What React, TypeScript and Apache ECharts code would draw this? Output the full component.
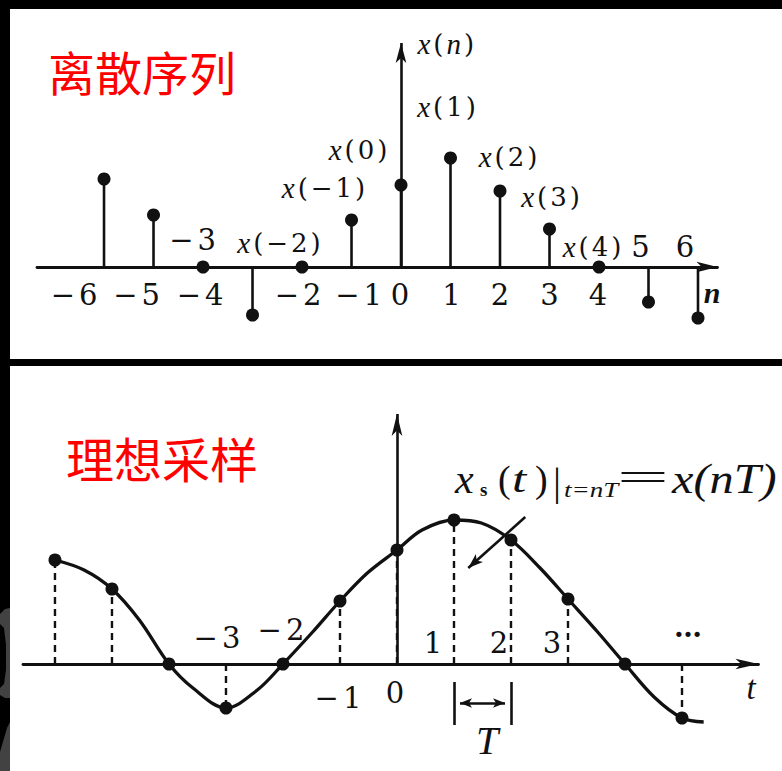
import React, { useEffect, useRef } from 'react';
import * as echarts from 'echarts';

// ---------------- data: discrete sequence x(n) ----------------
const seqN = [-6, -5, -4, -3, -2, -1, 0, 1, 2, 3, 4, 5, 6];
const seqValues = [0.88, 0.52, 0, -0.48, 0, 0.47, 0.82, 1.09, 0.76, 0.38, 0, -0.35, -0.51];
const seqTickLabels = ['−6', '−5', '−4', '−3', '−2', '−1', '0', '1', '2', '3', '4', '5', '6'];
const seqValueLabels = ['', '', '', '', 'x(−2)', 'x(−1)', 'x(0)', 'x(1)', 'x(2)', 'x(3)', 'x(4)', '', ''];

// ---------------- data: ideal sampling of x(t) ----------------
const sampleN = [-6, -5, -4, -3, -2, -1, 0, 1, 2, 3, 4, 5];
const sampleValues = [1.04, 0.75, 0, -0.44, 0, 0.63, 1.14, 1.44, 1.24, 0.65, 0, -0.54];
const sampleTickLabels = ['', '', '', '−3', '−2', '−1', '0', '1', '2', '3', '', '…'];
const signalT = [-6, -5.49, -5, -4.52, -4, -3.58, -3, -2.45, -2, -1.48, -1, -0.52, 0, 0.44, 1, 1.48, 2, 2.51, 3, 3.52, 4, 4.51, 5, 5.38];
const signalValues = [1.04, 0.94, 0.75, 0.44, 0, -0.24, -0.44, -0.26, 0, 0.32, 0.63, 0.91, 1.14, 1.34, 1.44, 1.41, 1.24, 0.96, 0.65, 0.32, 0, -0.33, -0.54, -0.58];

// ---------------- styles / layout ----------------
const INK = '#111111';
const RED = '#ff0000';
const SERIF = "'Liberation Serif', 'DejaVu Serif', serif";
const WIDE_SERIF = "'DejaVu Serif', 'Liberation Serif', serif";
const CJK = "'Noto Sans CJK SC', 'Noto Sans', sans-serif";

type Nudge = [number, number];
const seqTickNudge: Record<string, Nudge> = {
  '-6': [-30, 28], '-5': [-17, 28], '-4': [-3, 28], '-3': [-60, -27], '-2': [-4, 28], '-1': [7, 28],
  '0': [-1, 28], '1': [1, 28], '2': [0, 28], '3': [0, 28], '4': [-1, 28], '5': [-8, -20], '6': [-13, -20],
};
const seqValueNudge: Record<string, Nudge> = {
  '-2': [-23, -24], '-1': [-28, -32], '0': [-43, -35], '1': [-4, -51], '2': [8, -34], '3': [1, -32], '4': [-7, -20],
};
const sampleTickNudge: Record<string, Nudge> = {
  '-3': [-9, -26], '-2': [-2, -34], '-1': [-2, 34], '0': [-2, 29], '1': [-21, -21], '2': [-12, -21], '3': [-16, -21], '5': [6, -37],
};

// letters: italic Times-like; digits / signs: wide upright serif (like the scanned textbook)
function mathRich(str: string, size: number, pad: number, bold = false) {
  let text = '';
  for (const ch of Array.from(str)) {
    const key = /[A-Za-z]/.test(ch) ? 'i' : 'u';
    text += `{${key}|${ch}}`;
  }
  const w = bold ? 'bold' : 'normal';
  return {
    text,
    rich: {
      i: { font: `italic ${w} ${Math.round(size * 1.12)}px ${SERIF}`, fill: INK, color: INK, padding: [0, pad, 0, pad] },
      u: { font: `normal ${w} ${size}px ${WIDE_SERIF}`, fill: INK, color: INK, padding: [0, pad, 0, pad] },
    },
  };
}

function richText(x: number, y: number, str: string, size: number, pad: number, align = 'center', extra: any = {}, bold = false) {
  const r = mathRich(str, size, pad, bold);
  return {
    type: 'text', x, y, ...extra,
    style: {
      text: r.text, rich: r.rich, fill: INK, font: `normal normal ${size}px ${WIDE_SERIF}`,
      align, verticalAlign: 'middle', textAlign: align, textVerticalAlign: 'middle',
    },
  };
}

function plainText(x: number, y: number, str: string, size: number, family: string, fill: string, opts: any = {}, extra: any = {}) {
  return {
    type: 'text', x, y, ...extra,
    style: {
      text: str, fill,
      font: `${opts.italic ? 'italic' : 'normal'} ${opts.bold ? 'bold' : 'normal'} ${size}px ${family}`,
      align: opts.align || 'left', verticalAlign: 'middle', textAlign: opts.align || 'left', textVerticalAlign: 'middle',
    },
  };
}

function buildOption(): any {
  const axisCommon = {
    type: 'value',
    axisTick: { show: false },
    axisLabel: { show: false },
    splitLine: { show: false },
  };
  const markLineBase = {
    silent: true,
    animation: false,
    label: { show: false },
    emphasis: { disabled: true },
    lineStyle: { color: INK, width: 2.6, type: 'solid' },
    symbol: ['none', 'none'],
  };

  const graphicElements: any[] = [
    // frame bands
    { type: 'rect', shape: { x: 0, y: 0, width: 782, height: 9 }, style: { fill: '#000' }, z: 50 },
    { type: 'rect', shape: { x: 0, y: 0, width: 10, height: 771 }, style: { fill: '#000' }, z: 50 },
    { type: 'rect', shape: { x: 0, y: 359, width: 782, height: 7 }, style: { fill: '#000' }, z: 50 },
    // grey scan artefact on the left band
    { type: 'polygon', shape: { points: [[0, 614], [5, 609], [10, 608], [10, 698], [5, 698], [0, 695]] }, style: { fill: '#424242' }, z: 51 },
    { type: 'polygon', shape: { points: [[0, 624], [4, 628], [6, 645], [6, 670], [4, 684], [0, 688]] }, style: { fill: '#000' }, z: 52 },
    { type: 'polygon', shape: { points: [[7, 728], [10, 722], [10, 771], [0, 771], [0, 752]] }, style: { fill: '#424242' }, z: 51 },
    // headings
    plainText(48, 70, '离散序列', 47, CJK, RED),
    plainText(66, 457, '理想采样', 48, CJK, RED),
    // axis names
    richText(416, 44, 'x(n)', 26, 1.5, 'left'),
    plainText(712, 292, 'n', 30, SERIF, INK, { italic: true, bold: true, align: 'center' }),
    plainText(751, 688, 't', 33, SERIF, INK, { italic: true, align: 'center' }),
    plainText(487, 740, 'T', 40, SERIF, INK, { italic: true, align: 'center' }),
    // formula  x_s(t)|_{t=nT} = x(nT)
    plainText(455, 479, 'x', 42, SERIF, INK, { italic: true }),
    plainText(480, 489, 's', 19, SERIF, INK, { bold: true }),
    plainText(498, 479, '(', 38, SERIF, INK, {}),
    plainText(512, 479, 't', 38, SERIF, INK, { italic: true }, { scaleX: 1.35 }),
    plainText(535, 479, ')', 38, SERIF, INK, {}),
    plainText(553, 481, '|', 40, SERIF, INK, {}),
    plainText(564, 490, 't=nT', 20, SERIF, INK, { italic: true }, { scaleX: 1.35 }),
    plainText(617, 477, '=', 40, SERIF, INK, {}, { scaleX: 2.3 }),
    plainText(672, 479, 'x(nT)', 42, SERIF, INK, { italic: true }, { scaleX: 1.15 }),
  ];

  const seqPoints = seqN.map((n, i) => [n, seqValues[i], i]);
  const samplePoints = sampleN.map((n, i) => [n, sampleValues[i], i]);

  return {
    animation: false,
    backgroundColor: '#ffffff',
    grid: [
      { left: 37, right: 64.5, top: 17, bottom: 424, containLabel: false, outerBoundsMode: 'none' },
      { left: 23, right: 23.5, top: 394, bottom: 7, containLabel: false, outerBoundsMode: 'none' },
    ],
    xAxis: [
      {
        ...axisCommon, gridIndex: 0, min: -7.354, max: 6.394,
        axisLine: { show: true, onZero: true, symbol: ['none', 'arrow'], symbolSize: [8, 21], lineStyle: { color: INK, width: 2.8 } },
      },
      {
        ...axisCommon, gridIndex: 1, min: -6.561, max: 6.342,
        axisLine: { show: true, onZero: true, symbol: ['none', 'arrow'], symbolSize: [8, 23], lineStyle: { color: INK, width: 2.8 } },
      },
    ],
    yAxis: [
      { type: 'value', gridIndex: 0, min: -0.8, max: 2.5, show: false },
      { type: 'value', gridIndex: 1, min: -1.0, max: 2.7, show: false },
    ],
    graphic: { elements: graphicElements },
    series: [
      // ---- top: stems ----
      {
        type: 'custom', name: 'x(n) stems', xAxisIndex: 0, yAxisIndex: 0, silent: true, z: 3,
        data: seqPoints,
        renderItem: (_p: any, api: any) => {
          const n = api.value(0), v = api.value(1);
          const a = api.coord([n, 0]), b = api.coord([n, v]);
          return { type: 'line', shape: { x1: a[0], y1: a[1], x2: b[0], y2: b[1] }, style: { stroke: INK, lineWidth: 2.6 } };
        },
      },
      // ---- top: dots + vertical axis ----
      {
        type: 'scatter', name: 'x(n)', xAxisIndex: 0, yAxisIndex: 0, silent: true, z: 4,
        data: seqPoints.map((p) => [p[0], p[1]]),
        symbol: 'circle', symbolSize: 13, itemStyle: { color: INK, opacity: 1 },
        markLine: {
          ...markLineBase,
          data: [[{ coord: [0, 0], symbol: 'none' }, { coord: [0, 2.24], symbol: 'arrow', symbolSize: [8, 20] }]],
        },
      },
      // ---- top: labels ----
      {
        type: 'custom', name: 'x(n) labels', xAxisIndex: 0, yAxisIndex: 0, silent: true, z: 5,
        data: seqPoints,
        renderItem: (_p: any, api: any) => {
          const n = api.value(0), v = api.value(1), i = api.value(2);
          const children: any[] = [];
          const base = api.coord([n, 0]);
          const tick = seqTickLabels[i];
          if (tick) {
            const d = seqTickNudge[String(n)] || [0, v < 0 ? -20 : 28];
            children.push(richText(base[0] + d[0], base[1] + d[1], tick, 29, 2));
          }
          const lab = seqValueLabels[i];
          if (lab) {
            const top = api.coord([n, v]);
            const d = seqValueNudge[String(n)] || [0, -30];
            children.push(richText(top[0] + d[0], top[1] + d[1], lab, 26, 1.5));
          }
          return { type: 'group', children };
        },
      },
      // ---- bottom: continuous signal + annotations ----
      {
        type: 'line', name: 'x(t)', xAxisIndex: 1, yAxisIndex: 1, silent: true, z: 3,
        data: signalT.map((t, i) => [t, signalValues[i]]),
        smooth: 0.35, showSymbol: false, symbol: 'none',
        lineStyle: { color: INK, width: 3.3 },
        markLine: {
          ...markLineBase,
          data: [
            [{ coord: [0, 0], symbol: 'none' }, { coord: [0, 2.5], symbol: 'arrow', symbolSize: [8, 22] }],
            [{ coord: [1, -0.18], symbol: 'none' }, { coord: [1, -0.61], symbol: 'none' }],
            [{ coord: [2, -0.18], symbol: 'none' }, { coord: [2, -0.61], symbol: 'none' }],
            [{ coord: [1.105, -0.39], symbol: 'arrow', symbolSize: [7, 12] }, { coord: [1.895, -0.39], symbol: 'arrow', symbolSize: [7, 12] }],
            [{ coord: [2.25, 1.47], symbol: 'none' }, { coord: [1.25, 0.96], symbol: 'arrow', symbolSize: [8, 15] }],
          ],
        },
      },
      // ---- bottom: dashed sampling lines ----
      {
        type: 'custom', name: 'samples stems', xAxisIndex: 1, yAxisIndex: 1, silent: true, z: 2,
        data: samplePoints,
        renderItem: (_p: any, api: any) => {
          const n = api.value(0), v = api.value(1);
          const a = api.coord([n, 0]), b = api.coord([n, v]);
          return { type: 'line', shape: { x1: a[0], y1: a[1], x2: b[0], y2: b[1] }, style: { stroke: INK, lineWidth: 2.4, lineDash: [7, 5] } };
        },
      },
      // ---- bottom: sample dots ----
      {
        type: 'scatter', name: 'x(nT)', xAxisIndex: 1, yAxisIndex: 1, silent: true, z: 4,
        data: samplePoints.map((p) => [p[0], p[1]]),
        symbol: 'circle', symbolSize: 13, itemStyle: { color: INK, opacity: 1 },
      },
      // ---- bottom: labels ----
      {
        type: 'custom', name: 'sample labels', xAxisIndex: 1, yAxisIndex: 1, silent: true, z: 5,
        data: samplePoints,
        renderItem: (_p: any, api: any) => {
          const n = api.value(0), i = api.value(2);
          const tick = sampleTickLabels[i];
          if (!tick) return { type: 'group', children: [] };
          const base = api.coord([n, 0]);
          const d = sampleTickNudge[String(n)] || [0, 28];
          const bold = tick === '…';
          return { type: 'group', children: [richText(base[0] + d[0], base[1] + d[1], tick, bold ? 28 : 29, 2, 'center', {}, bold)] };
        },
      },
    ],
  };
}

export default function App() {
  const ref = useRef<HTMLDivElement>(null);
  useEffect(() => {
    if (!ref.current) return;
    const chart = echarts.init(ref.current, null, { renderer: 'svg' });
    chart.setOption(buildOption());
    return () => chart.dispose();
  }, []);
  return <div ref={ref} style={{ position: 'absolute', left: 0, top: 0, width: 782, height: 771 }} />;
}
